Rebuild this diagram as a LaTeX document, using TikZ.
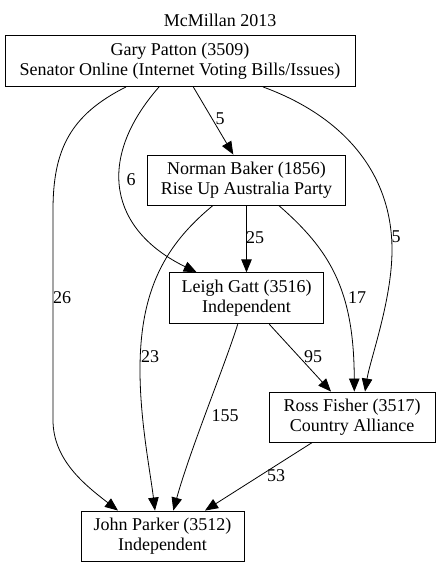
\documentclass[tikz,border=0pt]{standalone}
\usepackage{fontspec}
\setmainfont{Liberation Serif}
\usetikzlibrary{arrows.meta,calc}
\begin{document}
\begin{tikzpicture}[x=1pt,y=-1pt,
  box/.style={draw,line width=0.9pt,align=center,inner sep=0pt,font=\fontsize{18}{20}\selectfont},
  edge/.style={line width=0.8pt,-{Triangle[length=13pt,width=10.5pt]}},
  lbl/.style={font=\fontsize{18}{20}\selectfont,inner sep=0pt}]
\useasboundingbox[fill=white] (0,0) rectangle (440,567);
\node[lbl] (title) at (220,20.5) {McMillan 2013};
\node[box,minimum width=350pt,minimum height=51pt] (gary) at (180,61) {Gary Patton (3509)\\Senator Online (Internet Voting Bills/Issues)};
\node[box,minimum width=197.6pt,minimum height=50pt] (norman) at (246.5,180) {Norman Baker (1856)\\Rise Up Australia Party};
\node[box,minimum width=153.6pt,minimum height=51pt] (leigh) at (246.5,298.3) {Leigh Gatt (3516)\\Independent};
\node[box,minimum width=166pt,minimum height=50pt] (ross) at (352,417) {Ross Fisher (3517)\\Country Alliance};
\node[box,minimum width=163pt,minimum height=50pt] (john) at (162.5,536) {John Parker (3512)\\Independent};
% Gary -> Norman
\draw[edge] ([xshift=13.3pt]gary.south) -- ([xshift=-13.2pt]norman.north);
\node[lbl] (l1) at (220,119) {5};
% Gary -> Leigh
\draw[edge] ([xshift=-21pt]gary.south) .. controls (95,160) and (110,230) .. ([xshift=-49.8pt]leigh.north);
\node[lbl] (l2) at (131,180) {6};
% Gary -> John
\draw[edge] ([xshift=-54pt]gary.south) .. controls (70,115) and (53,150) .. (53,210) -- (53,420) .. controls (53,460) and (85,485) .. ([xshift=-44.5pt]john.north);
\node[lbl] (l3) at (62,298) {26};
% Gary -> Ross
\draw[edge] ([xshift=83pt]gary.south) .. controls (340,115) and (392,170) .. (392,250) .. controls (392,300) and (370,360) .. ([xshift=13pt]ross.north);
\node[lbl] (l4) at (396,237) {5};
% Norman -> Leigh
\draw[edge] (norman.south) -- (leigh.north);
\node[lbl] (l5) at (255,238) {25};
% Norman -> John
\draw[edge] ([xshift=-33.5pt]norman.south) .. controls (165,245) and (140,290) .. (140,370) .. controls (140,420) and (150,470) .. ([xshift=-7.5pt]john.north);
\node[lbl] (l6) at (150,357) {23};
% Norman -> Ross
\draw[edge] ([xshift=32.2pt]norman.south) .. controls (330,250) and (354,290) .. ([xshift=2.3pt]ross.north);
\node[lbl] (l7) at (357,298) {17};
% Leigh -> John
\draw[edge] ([xshift=-8.8pt]leigh.south) .. controls (225,365) and (190,450) .. ([xshift=10.8pt]john.north);
\node[lbl] (l8) at (225,416) {155};
% Leigh -> Ross
\draw[edge] ([xshift=22.8pt]leigh.south) -- ([xshift=-21pt]ross.north);
\node[lbl] (l9) at (313,357) {95};
% Ross -> John
\draw[edge] ([xshift=-39.7pt]ross.south) -- ([xshift=42.5pt]john.north);
\node[lbl] (l10) at (276,476) {53};
\end{tikzpicture}
\end{document}
